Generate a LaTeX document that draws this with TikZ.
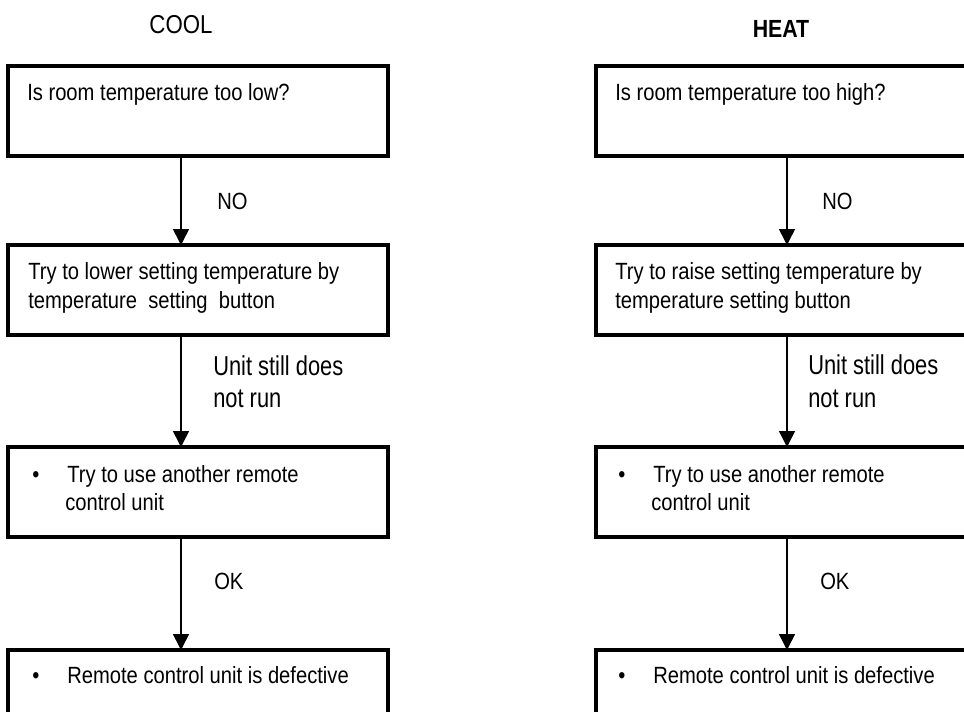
\documentclass[tikz,border=0pt]{standalone}
\usepackage{fontspec}
\setmainfont{Liberation Sans}[FakeStretch=0.86]
\newfontfamily\lblfont{Liberation Sans}[FakeStretch=0.8]
\usetikzlibrary{arrows.meta}
\tikzset{
  box/.style={draw, line width=2.8pt, rectangle, inner sep=0pt, outer sep=0pt,
    minimum width=285pt, minimum height=67.5pt, anchor=north west},
  arr/.style={line width=1.2pt, -{Triangle[width=12pt,length=12pt]}},
  txt/.style={anchor=base west, inner sep=0pt, font=\fontsize{17.6}{21}\selectfont},
  lbl/.style={anchor=base west, inner sep=0pt, font=\lblfont\fontsize{20.5}{24}\selectfont},
  ttl/.style={anchor=base, inner sep=0pt, font=\fontsize{19.4}{23}\selectfont},
}
\begin{document}
\begin{tikzpicture}[x=0.75pt,y=-0.75pt]
\useasboundingbox (0,0) rectangle (964,711);
\fill[white] (0,0) rectangle (964,711);
\clip (0,0) rectangle (964,711);
% titles
\node[ttl] (cool) at (181,33) {COOL};
\node[ttl, font=\bfseries\fontsize{18.6}{23}\selectfont] (heat) at (781,37) {HEAT};
% arrow axes
\coordinate (cx) at (181,0);
\coordinate (hx) at (787,0);
% COOL boxes
\node[box] (c1) at (8,66) {};
\node[box] (c2) at (8,245) {};
\node[box] (c3) at (8,447) {};
\node[box] (c4) at (8,650) {};
% HEAT boxes
\node[box] (h1) at (596,66) {};
\node[box] (h2) at (596,245) {};
\node[box] (h3) at (596,447) {};
\node[box] (h4) at (596,650) {};
% COOL texts
\node[txt] (c1t) at (27,100) {Is room temperature too low?};
\node[txt] (c2a) at (28,279) {Try to lower setting temperature by};
\node[txt] (c2b) at (28,308) {temperature\ \ setting\ \ button};
\node[txt] (c3d) at (32,482) {•};
\node[txt] (c3a) at (67,482) {Try to use another remote};
\node[txt] (c3b) at (65,510) {control unit};
\node[txt] (c4d) at (32,683) {•};
\node[txt] (c4a) at (67,683) {Remote control unit is defective};
% HEAT texts
\node[txt] (h1t) at (615,100) {Is room temperature too high?};
\node[txt] (h2a) at (615,279) {Try to raise setting temperature by};
\node[txt] (h2b) at (615,308) {temperature setting button};
\node[txt] (h3d) at (618,482) {•};
\node[txt] (h3a) at (653,482) {Try to use another remote};
\node[txt] (h3b) at (651,510) {control unit};
\node[txt] (h4d) at (618,683) {•};
\node[txt] (h4a) at (653,683) {Remote control unit is defective};
% connectors
\draw[arr] (c1.south -| cx) -- (c2.north -| cx);
\draw[arr] (c2.south -| cx) -- (c3.north -| cx);
\draw[arr] (c3.south -| cx) -- (c4.north -| cx);
\draw[arr] (h1.south -| hx) -- (h2.north -| hx);
\draw[arr] (h2.south -| hx) -- (h3.north -| hx);
\draw[arr] (h3.south -| hx) -- (h4.north -| hx);
% connector labels
\node[txt] (cno) at (217,209) {NO};
\node[lbl] (cu1) at (213,375) {Unit still does};
\node[lbl] (cu2) at (213,407) {not run};
\node[txt] (cok) at (214,589) {OK};
\node[txt] (hno) at (822,209) {NO};
\node[lbl] (hu1) at (808,374) {Unit still does};
\node[lbl] (hu2) at (808,407) {not run};
\node[txt] (hok) at (820,589) {OK};
\end{tikzpicture}
\end{document}
